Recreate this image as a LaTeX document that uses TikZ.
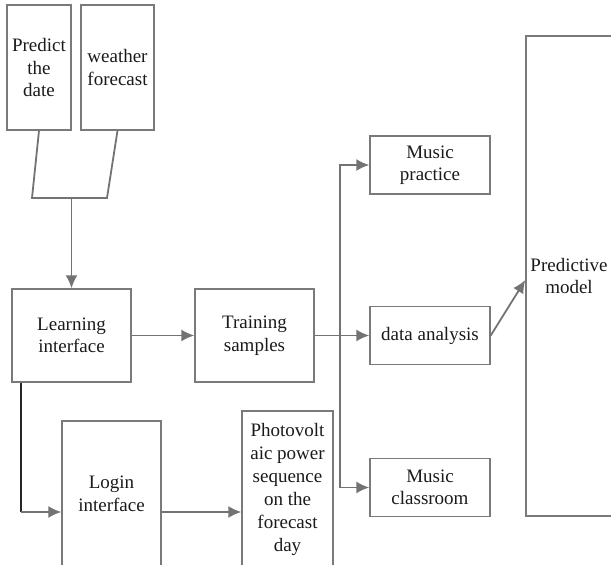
\documentclass[tikz,border=0pt]{standalone}
\usepackage{fontspec}
\setmainfont{Liberation Serif}
\usetikzlibrary{arrows.meta}

\definecolor{linegray}{HTML}{737373}
\definecolor{boxgray}{HTML}{7A7A7A}
\definecolor{textgray}{HTML}{1A1A1A}

\begin{document}
\begin{tikzpicture}[x=1pt, y=-1pt,
    main/.style = {draw=boxgray, line width=1.4pt, rectangle, align=center, inner sep=0pt, text=textgray, font=\fontsize{19}{22.5}\selectfont},
    link/.style = {draw=linegray, line width=1.8pt},
    arr/.style = {link, -{Latex[length=13pt,width=12pt]}}]
    \useasboundingbox (0,0) rectangle (611,565);

    \node[main, minimum width=64pt, minimum height=125pt] (Date) at (39,67.5) {Predict\\the\\date};
    \node[main, minimum width=73pt, minimum height=125pt] (Weather) at (117.5,67.5) {weather\\forecast};
    \node[main, minimum width=119pt, minimum height=93pt] (Learn) at (71.5,335.5) {Learning\\interface};
    \node[main, minimum width=119pt, minimum height=93pt] (Train) at (254.5,335.5) {Training\\samples};
    \node[main, minimum width=120pt, minimum height=58pt] (Practice) at (430,165) {Music\\practice};
    \node[main, minimum width=120pt, minimum height=58pt] (Analysis) at (430,335.5) {data analysis};
    \node[main, minimum width=120pt, minimum height=58pt] (Classroom) at (430,487.5) {Music\\classroom};
    \node[main, minimum width=86pt, minimum height=480pt] (Model) at (569,276) {Predictive\\model};
    \node[main, minimum width=99pt, minimum height=146pt] (Login) at (111.5,494) {Login\\interface};
    \node[main, minimum width=91pt, minimum height=156pt, font=\fontsize{19}{23}\selectfont] (PV) at (287.5,489) {Photovolt\\aic power\\sequence\\on the\\forecast\\day};

    % funnel from the two inputs
    \coordinate (JoinL) at (32,198);
    \coordinate (JoinR) at (107,198);
    \coordinate (JoinM) at (71.5,198);
    \draw[link] (Date.south) -- (JoinL) -- (JoinR) -- (Weather.south);
    \draw[arr] (JoinM) -- (Learn.north);

    \draw[arr] (Learn) -- (Train);

    % branches
    \coordinate (Split) at (340,335.5);
    \draw[link] (Train.east) -- (Split);
    \draw[arr] (Split) -- (Analysis.west);
    \draw[arr] (Split) |- (Practice.west);
    \draw[arr] (Split) |- (Classroom.west);
    \draw[arr] (Analysis.east) -- ([yshift=-4pt]Model.west);

    \coordinate (Bend) at (21,512);
    \draw[link, draw=black!85] ([xshift=-50.5pt]Learn.south) -- (Bend);
    \draw[arr] (Bend) -- ([yshift=-18pt]Login.west);
    \draw[arr] ([yshift=-18pt]Login.east) -- ([yshift=-18pt]Login.east -| PV.west);
\end{tikzpicture}
\end{document}
